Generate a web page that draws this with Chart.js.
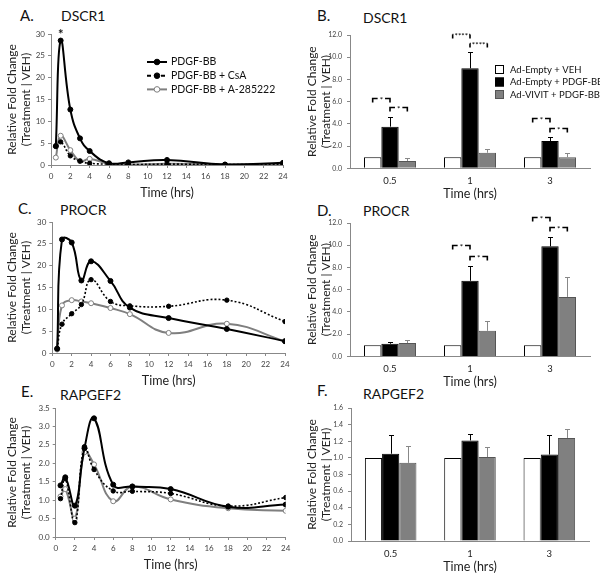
<!DOCTYPE html>
<html><head><meta charset="utf-8">
<script src="https://cdn.jsdelivr.net/npm/chart.js@4.4.0/dist/chart.umd.min.js"></script>
<style>
body{margin:0;background:#fff;width:600px;height:579px;position:relative;overflow:hidden;font-family:Lato,"Open Sans",sans-serif;}
canvas{position:absolute;}
.lbl{position:absolute;color:#111;white-space:nowrap;line-height:1;transform:translateY(-50%);}
.let{font-size:15px;}
.gene{font-size:14px;}
</style></head><body>
<div class="lbl let" style="left:20px;top:15px">A.</div>
<div class="lbl gene" style="left:61px;top:16px">DSCR1</div>
<div class="lbl let" style="left:317px;top:15px">B.</div>
<div class="lbl gene" style="left:363px;top:18px">DSCR1</div>
<div class="lbl let" style="left:18px;top:208px">C.</div>
<div class="lbl gene" style="left:60px;top:210px">PROCR</div>
<div class="lbl let" style="left:317px;top:210px">D.</div>
<div class="lbl gene" style="left:363px;top:211px">PROCR</div>
<div class="lbl let" style="left:21px;top:391px">E.</div>
<div class="lbl gene" style="left:60px;top:395px">RAPGEF2</div>
<div class="lbl let" style="left:317px;top:390px">F.</div>
<div class="lbl gene" style="left:363px;top:394px">RAPGEF2</div>

<canvas id="cA"></canvas>
<canvas id="cB"></canvas>
<canvas id="cC"></canvas>
<canvas id="cD"></canvas>
<canvas id="cE"></canvas>
<canvas id="cF"></canvas>

<script>
// ---------------- DATA ----------------
const timesHrs = [0.5, 1, 2, 3, 4, 6, 8, 12, 18, 24];
const lineSeriesNames = ["PDGF-BB", "PDGF-BB + CsA", "PDGF-BB + A-285222"];

const dscr1_pdgf = [4.3, 28.5, 12.7, 6.1, 3.2, 0.4, 0.6, 1.15, 0.1, 0.5];
const dscr1_csa  = [4.4, 5.3, 2.1, 0.9, 0.4, 0.2, 0.1, 0.2, 0.1, 0.2];
const dscr1_a285 = [1.7, 6.7, 3.4, 0.9, 1.4, 0.3, 0.1, 0.3, 0.1, 0.2];
const dscr1_starAt = [1];

const procr_pdgf = [1.0, 26.0, 25.3, 16.6, 21.0, 16.5, 10.4, 8.0, 5.5, 2.7];
const procr_csa  = [1.0, 6.6, 9.0, 11.1, 16.8, 11.8, 10.8, 10.7, 12.1, 7.2];
const procr_a285 = [0.8, 10.9, 12.1, 11.8, 11.4, 10.3, 8.9, 4.6, 6.7, 2.7];

const rap_pdgf = [1.40, 1.62, 0.85, 2.41, 3.22, 1.42, 1.37, 1.30, 0.82, 0.88];
const rap_csa  = [1.04, 1.58, 0.39, 2.45, 1.83, 1.25, 1.24, 1.18, 0.84, 1.07];
const rap_a285 = [1.10, 1.30, 0.50, 2.30, 1.97, 0.97, 1.37, 1.02, 0.78, 0.71];

const barTimes = ["0.5", "1", "3"];
const barSeriesNames = ["Ad-Empty + VEH", "Ad-Empty + PDGF-BB", "Ad-VIVIT + PDGF-BB"];

const dscr1_veh = [1.0, 1.0, 1.0];
const dscr1_empty = [3.75, 9.0, 2.46];
const dscr1_empty_err = [0.85, 1.5, 0.4];
const dscr1_vivit = [0.66, 1.4, 1.0];
const dscr1_vivit_err = [0.3, 0.35, 0.4];
const dscr1_sigText = ["*", "****", "*"];
const dscr1_sigLevels = [[6.3, 5.5], [12.1, 11.3], [4.5, 3.6]];

const procr_veh = [1.0, 1.0, 1.0];
const procr_empty = [1.14, 6.8, 9.9];
const procr_empty_err = [0.2, 1.3, 0.8];
const procr_vivit = [1.2, 2.3, 5.35];
const procr_vivit_err = [0.3, 0.9, 1.8];
const procr_sigText = ["", "*", "*"];
const procr_sigLevels = [null, [10.0, 9.0], [12.5, 11.65]];

const rap_veh = [1.0, 1.0, 1.0];
const rap_empty = [1.05, 1.21, 1.04];
const rap_empty_err = [0.22, 0.08, 0.23];
const rap_vivit = [0.94, 1.01, 1.24];
const rap_vivit_err = [0.2, 0.12, 0.11];

// ---------------- STYLE / LAYOUT ----------------
const FONT = 'Lato, "Open Sans", sans-serif';
Chart.defaults.font.family = FONT;

const LINE_STYLES = [
  {borderColor:'#000', borderWidth:2, borderDash:[], pointBackgroundColor:'#000', pointBorderColor:'#000', pointRadius:2.5, pointBorderWidth:1},
  {borderColor:'#000', borderWidth:1.6, borderDash:[2,2], pointBackgroundColor:'#000', pointBorderColor:'#000', pointRadius:2.2, pointBorderWidth:1},
  {borderColor:'#7f7f7f', borderWidth:2, borderDash:[], pointBackgroundColor:'#fff', pointBorderColor:'#7f7f7f', pointRadius:2.5, pointBorderWidth:1}
];
const BAR_STYLES = [
  {backgroundColor:'#fff', borderColor:'#000', borderWidth:1, errColor:'#000'},
  {backgroundColor:'#000', borderColor:'#000', borderWidth:1, errColor:'#000'},
  {backgroundColor:'#808080', borderColor:'#555', borderWidth:1, errColor:'#888'}
];

function placeCanvas(id, g){
  const c = document.getElementById(id);
  c.width = g.w; c.height = g.h;
  c.style.left = g.left + 'px'; c.style.top = g.top + 'px';
  c.style.width = g.w + 'px'; c.style.height = g.h + 'px';
  return c;
}

const yTitle = {display:true, text:['Relative Fold Change','(Treatment | VEH)'], color:'#222',
  font:{size:12, family:FONT, lineHeight:1.1}, padding:{top:6, bottom:0}};

function lineLegendPlugin(x0, rows){
  return {id:'lineLegend', afterDraw(chart){
    const ctx = chart.ctx;
    chart.data.datasets.forEach((ds,i)=>{
      const y = rows[i];
      ctx.save();
      ctx.strokeStyle = ds.borderColor; ctx.lineWidth = 2;
      ctx.setLineDash(i===1 ? [4,3] : []);
      ctx.beginPath(); ctx.moveTo(x0, y); ctx.lineTo(x0+20, y); ctx.stroke();
      ctx.setLineDash([]);
      ctx.beginPath(); ctx.arc(x0+10, y, 2.8, 0, Math.PI*2);
      ctx.fillStyle = ds.pointBackgroundColor; ctx.fill();
      ctx.lineWidth = 1; ctx.strokeStyle = ds.pointBorderColor; ctx.stroke();
      ctx.fillStyle = '#111'; ctx.font = '10.5px ' + FONT; ctx.textBaseline = 'middle'; ctx.textAlign='left';
      ctx.fillText(ds.label, x0+24, y);
      ctx.restore();
    });
  }};
}

function starPlugin(xs){
  return {id:'star', afterDraw(chart){
    const ctx = chart.ctx, xs_ = chart.scales.x;
    ctx.save(); ctx.fillStyle='#111'; ctx.font='bold 13px '+FONT; ctx.textAlign='center'; ctx.textBaseline='middle';
    xs.forEach(v=>ctx.fillText('*', xs_.getPixelForValue(v), chart.chartArea.top + 1));
    ctx.restore();
  }};
}

function makeLine(id, g, series, yMax, yStep, dec, plugins){
  const c = placeCanvas(id, g);
  const datasets = series.map((vals,i)=>Object.assign({
    label: lineSeriesNames[i],
    data: timesHrs.map((t,k)=>({x:t, y:vals[k]})),
    tension: 0.45, fill:false, pointHoverRadius:0
  }, LINE_STYLES[i]));
  return new Chart(c, {
    type:'line', data:{datasets},
    options:{
      responsive:false, animation:false, events:[],
      layout:{padding:{top:g.padTop, right:g.padRight, left:0, bottom:0}},
      plugins:{legend:{display:false}, tooltip:{enabled:false}},
      scales:{
        x:{type:'linear', min:0, max:24,
          ticks:{stepSize:2, autoSkip:false, maxRotation:0, font:{size:8}, color:'#444', padding:4},
          grid:{drawOnChartArea:false, tickLength:3, color:'#888'}, border:{color:'#888'},
          title:{display:true, text:'Time (hrs)', color:'#222', font:{size:12.5, lineHeight:1.2}, padding:{top:0, bottom:4.5}},
          afterFit(s){ s.height = g.xH; }},
        y:{min:0, max:yMax,
          ticks:{stepSize:yStep, font:{size:8}, color:'#444', padding:3, callback:(v)=>v.toFixed(dec)},
          grid:{drawOnChartArea:false, tickLength:3, color:'#888'}, border:{color:'#888'},
          title:yTitle,
          afterFit(s){ s.width = g.yW; }}
      }
    },
    plugins: plugins || []
  });
}

const errorBarPlugin = {id:'errbars', afterDatasetsDraw(chart){
  const ctx = chart.ctx, ys = chart.scales.y;
  chart.data.datasets.forEach((ds,i)=>{
    if(!ds.errUp) return;
    const meta = chart.getDatasetMeta(i);
    ctx.save(); ctx.strokeStyle = ds.errColor; ctx.lineWidth = 1;
    meta.data.forEach((bar,j)=>{
      const top = Math.round(ys.getPixelForValue(ds.data[j] + ds.errUp[j])) + 0.5;
      const x = Math.round(bar.x) + 0.5;
      ctx.beginPath(); ctx.moveTo(x, bar.y); ctx.lineTo(x, top);
      ctx.moveTo(x-2.5, top); ctx.lineTo(x+2.5, top); ctx.stroke();
    });
    ctx.restore();
  });
}};

function sigPlugin(texts, levels){
  return {id:'sig', afterDraw(chart){
    const ctx = chart.ctx, ys = chart.scales.y;
    levels.forEach((lv,j)=>{
      if(!lv) return;
      const xs = [0,1,2].map(i=>chart.getDatasetMeta(i).data[j].x);
      [[xs[0],xs[1],lv[0]],[xs[1],xs[2],lv[1]]].forEach(([x1,x2,v])=>{
        const py = Math.round(ys.getPixelForValue(v)) + 0.5;
        ctx.save();
        ctx.font = '8px ' + FONT;
        const t = texts[j];
        const tw = ctx.measureText(t).width + 4;
        const xm = (x1+x2)/2;
        ctx.strokeStyle = '#000'; ctx.lineWidth = 1.6;
        ctx.beginPath();
        ctx.moveTo(x1, py+4); ctx.lineTo(x1, py); ctx.lineTo(xm - tw/2, py);
        ctx.moveTo(xm + tw/2, py); ctx.lineTo(x2, py); ctx.lineTo(x2, py+4);
        ctx.stroke();
        ctx.fillStyle = '#000'; ctx.textAlign='center'; ctx.textBaseline='middle';
        ctx.fillText(t, xm, py + 2);
        ctx.restore();
      });
    });
  }};
}

function barLegendPlugin(x0, rows){
  return {id:'barLegend', afterDraw(chart){
    const ctx = chart.ctx;
    chart.data.datasets.forEach((ds,i)=>{
      const y = rows[i];
      ctx.save();
      ctx.fillStyle = ds.backgroundColor; ctx.fillRect(x0, y-4.5, 9, 9);
      ctx.strokeStyle = ds.borderColor; ctx.lineWidth = 1; ctx.strokeRect(x0+0.5, y-4, 8, 8);
      ctx.fillStyle = '#111'; ctx.font = '9.5px ' + FONT; ctx.textBaseline='middle'; ctx.textAlign='left';
      ctx.fillText(ds.label, x0+15, y);
      ctx.restore();
    });
  }};
}

function makeBar(id, g, series, errs, yMax, yStep, plugins){
  const c = placeCanvas(id, g);
  const datasets = series.map((vals,i)=>Object.assign({
    label: barSeriesNames[i], data: vals, errUp: errs[i],
    barPercentage:1.0, categoryPercentage:0.65
  }, BAR_STYLES[i]));
  return new Chart(c, {
    type:'bar', data:{labels:barTimes, datasets},
    options:{
      responsive:false, animation:false, events:[],
      layout:{padding:{top:g.padTop, right:g.padRight, left:0, bottom:0}},
      plugins:{legend:{display:false}, tooltip:{enabled:false}},
      scales:{
        x:{ticks:{font:{size:9.5}, color:'#222', padding:7},
          grid:{display:false, drawTicks:false, tickLength:0}, border:{color:'#888'},
          title:{display:true, text:'Time (hrs)', color:'#222', font:{size:12.5, lineHeight:1.1}, padding:{top:0, bottom:4}},
          afterFit(s){ s.height = g.xH; }},
        y:{min:0, max:yMax,
          ticks:{stepSize:yStep, font:{size:7}, color:'#444', padding:5, callback:(v)=>v.toFixed(1)},
          grid:{drawOnChartArea:false, tickLength:3, color:'#888'}, border:{color:'#888'},
          title:yTitle,
          afterFit(s){ s.width = g.yW; }}
      }
    },
    plugins: [errorBarPlugin].concat(plugins || [])
  });
}

// ---------------- BUILD ----------------
makeLine('cA', {left:0, top:25, w:300, h:180, padTop:9, padRight:17, yW:51, xH:40},
  [dscr1_pdgf, dscr1_csa, dscr1_a285], 30, 5, 0,
  [lineLegendPlugin(147, [37, 50.7, 64.4]), starPlugin(dscr1_starAt)]);
makeLine('cC', {left:0, top:212.7, w:300, h:180, padTop:9, padRight:15, yW:52.3, xH:40},
  [procr_pdgf, procr_csa, procr_a285], 30, 5, 0);
makeLine('cE', {left:0, top:398.7, w:300, h:178, padTop:9, padRight:14.3, yW:55.7, xH:40},
  [rap_pdgf, rap_csa, rap_a285], 3.5, 0.5, 1);

makeBar('cB', {left:300, top:25, w:300, h:180, padTop:10, padRight:10, yW:50, xH:36.7},
  [dscr1_veh, dscr1_empty, dscr1_vivit], [null, dscr1_empty_err, dscr1_vivit_err], 12, 2,
  [sigPlugin(dscr1_sigText, dscr1_sigLevels), barLegendPlugin(195, [44.5, 57, 69.5])]);
makeBar('cD', {left:300, top:213.3, w:300, h:180, padTop:10, padRight:10, yW:50, xH:36.6},
  [procr_veh, procr_empty, procr_vivit], [null, procr_empty_err, procr_vivit_err], 12, 2,
  [sigPlugin(procr_sigText, procr_sigLevels)]);
makeBar('cF', {left:300, top:397.7, w:300, h:180, padTop:10, padRight:11, yW:51, xH:37},
  [rap_veh, rap_empty, rap_vivit], [null, rap_empty_err, rap_vivit_err], 1.6, 0.2);
</script>
</body></html>
